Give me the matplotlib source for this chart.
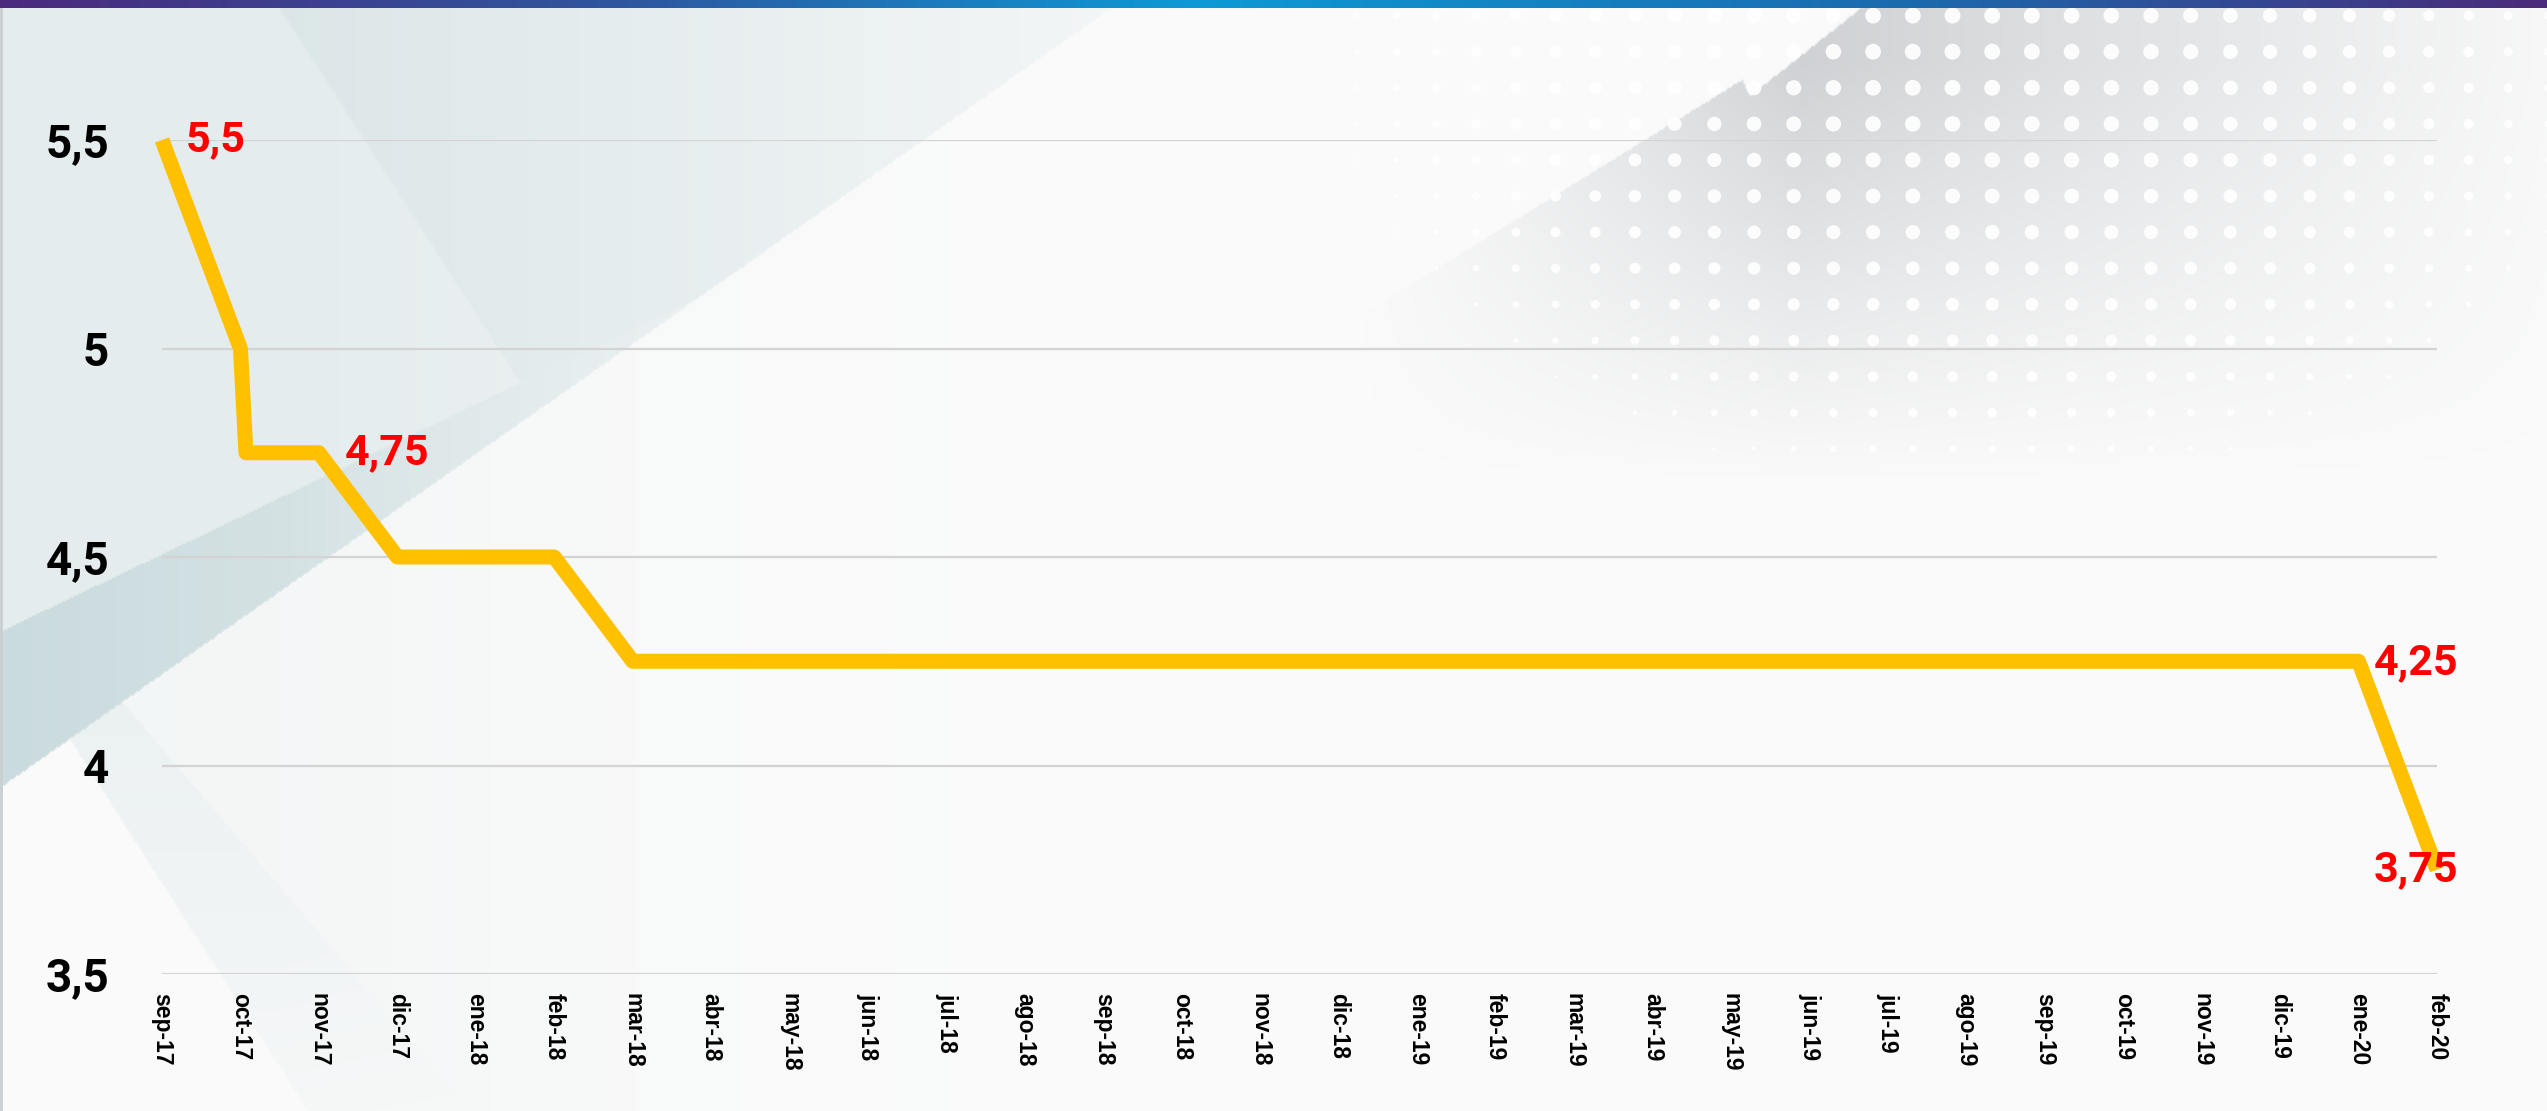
import numpy as np
import matplotlib.pyplot as plt
from matplotlib.colors import LinearSegmentedColormap

# x axis categories (one per month)
months = ["sep-17", "oct-17", "nov-17", "dic-17", "ene-18", "feb-18", "mar-18",
          "abr-18", "may-18", "jun-18", "jul-18", "ago-18", "sep-18", "oct-18",
          "nov-18", "dic-18", "ene-19", "feb-19", "mar-19", "abr-19", "may-19",
          "jun-19", "jul-19", "ago-19", "sep-19", "oct-19", "nov-19", "dic-19",
          "ene-20", "feb-20"]

# rate path: position in months from sep-17, value
# (the cut to 4.75 lands just after the oct-17 point)
rate_pos = [0, 1, 1.07, 2, 3, 5, 6, 28, 29]
rate_val = [5.5, 5.0, 4.75, 4.75, 4.5, 4.5, 4.25, 4.25, 3.75]

# points that carry a red value label
label_idx = [0, 3, 7, 8]

yticks = [3.5, 4, 4.5, 5, 5.5]


def fmt(v):
    return f"{v:g}".replace(".", ",")


W, H = 2547, 1111
fig = plt.figure(figsize=(W / 100, H / 100), dpi=100)

# ---- decorative background (pixel coords, y down) -----------------------
bg = fig.add_axes([0, 0, 1, 1], zorder=-10)
bg.set_xlim(0, W)
bg.set_ylim(H, 0)
bg.axis("off")

yy, xx = np.mgrid[0:H:2, 0:W:2].astype(float)


def line_y(x, p, q):
    return p[1] + (x - p[0]) * (q[1] - p[1]) / (q[0] - p[0])


above_b = yy < line_y(xx, (0, 787), (1111, 7))
above_a = yy < line_y(xx, (0, 631), (829, 234))
left_c = xx < 274 + yy * (223 / 347)
left_d = xx < (yy - 631) * (307 / 480)
left_e = xx < 120 + (yy - 700) * (350 / 411)

teal = np.zeros_like(xx)
teal[above_b & above_a & left_c] = 0.43
teal[above_b & above_a & ~left_c] = 0.6
r3 = above_b & ~above_a
teal[r3] = 0.95 - 0.45 * np.clip(xx[r3] / 650, 0, 1)
r4 = ~above_b & ~left_d & left_e
teal[r4] = 0.3 * np.clip(1 - (yy[r4] - 700) / 600, 0, 1)
r6 = ~above_b & ~left_d & ~left_e
teal[r6] = 0.15 * np.clip(1 - xx[r6] / 1100, 0, 1)
# fade the teal wash towards the centre
teal *= np.clip(1.25 - xx / 1100, 0, 1)

gray = np.zeros_like(xx)
right_f = xx > 1870 - yy * 1.62
gfade = (np.clip(1 - (xx - 1800) / 800, 0, 1)
         * np.clip(1 - (1800 - xx) / 450, 0, 1)
         * np.clip(1 - (yy - 60) / 420, 0, 1))
gray[right_f] = np.clip(gfade[right_f], 0, 1)
tri = (yy < 95) & (xx > 1700 + yy * (50 / 95)) & (xx < 1870 - yy * (120 / 95))
gray[tri] = 0.0

teal_d = np.array([0.20, 0.13, 0.12])
gray_d = np.array([0.17, 0.16, 0.15])
img = 0.982 - teal[..., None] * teal_d - gray[..., None] * gray_d
bg.imshow(np.clip(img, 0, 1), extent=(0, W, H, 0), interpolation="bilinear", aspect="auto")

# dot field in the top right
dx, dy = np.meshgrid(np.arange(1754 - 39.7 * 11, W + 20, 39.7), np.arange(15.6, 480, 36.1))
f = np.clip(1 - ((dx - 1980) / 650) ** 2 - ((dy - 40) / 460) ** 2, 0, 1)
diam = 16 * np.sqrt(f)
bg.scatter(dx.ravel(), dy.ravel(), s=(diam.ravel() * 0.72) ** 2, color="white",
           alpha=0.92, lw=0)
bg.plot([1, 1], [0, H], color="#c9cfd1", lw=2)

# top colour bar
bar = fig.add_axes([0, 1 - 8.5 / H, 1, 8.5 / H], zorder=5)
bar_cmap = LinearSegmentedColormap.from_list(
    "bar", [(0, "#4b2a7e"), (0.25, "#2d58a0"), (0.47, "#0d9ad6"),
            (0.75, "#1b6aae"), (1, "#4a2a7a")])
bar.imshow(np.linspace(0, 1, 512)[None, :], cmap=bar_cmap, aspect="auto")
bar.axis("off")

# ---- chart --------------------------------------------------------------
ax = fig.add_axes([162 / W, 1 - 974 / H, (2437 - 162) / W, (974 - 140) / H])
ax.patch.set_alpha(0)

ax.plot(rate_pos, rate_val, color="#FFC000", lw=10.8, solid_joinstyle="round",
        solid_capstyle="butt", clip_on=False, zorder=3)

ax.set_xlim(0, len(months) - 1)
ax.set_ylim(3.5, 5.5)
ax.set_xticks(range(len(months)))
ax.set_xticklabels(months, rotation=-90, fontsize=16.5, fontweight="bold",
                   family="Liberation Sans", va="top", ha="center")
ax.set_yticks(yticks)
ax.set_yticklabels([fmt(v) for v in yticks], fontsize=33, fontweight="bold",
                   family="Roboto")
ax.tick_params(axis="x", length=0, pad=14)
ax.tick_params(axis="y", length=0, pad=38)
ax.yaxis.grid(True, color="#d3d3d3", lw=1.6)
ax.set_axisbelow(True)
for s in ax.spines.values():
    s.set_visible(False)

offsets = {0: ((17, 0), "left"), 3: ((19, 0), "left"),
           7: ((11, -1), "left"), 8: ((-15, 0), "center")}
for i in label_idx:
    off, ha = offsets[i]
    ax.annotate(fmt(rate_val[i]), (rate_pos[i], rate_val[i]), xytext=off,
                textcoords="offset points", ha=ha, va="center", color="#FF0000",
                fontsize=31, fontweight="bold", family="Roboto", zorder=4)

fig.savefig("out.png", dpi=100)
